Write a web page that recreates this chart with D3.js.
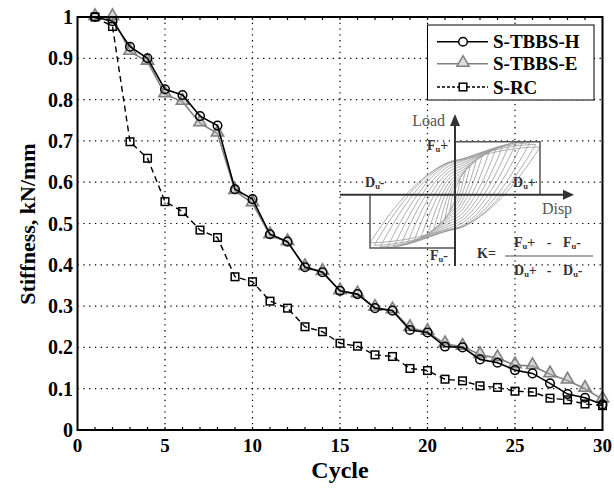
<!DOCTYPE html>
<html>
<head>
<meta charset="utf-8">
<script src="https://cdn.jsdelivr.net/npm/d3@7"></script>
<style>
  body { margin: 0; background: #fff; }
  text { font-family: "Liberation Serif", "Times New Roman", serif; }
</style>
</head>
<body>
<svg width="614" height="488"></svg>
<script>
// stiffness degradation per cycle
var cycles = d3.range(1, 31);
var tbbsH = [1.0, 0.99, 0.928, 0.900, 0.825, 0.811, 0.760, 0.737, 0.583, 0.559,
  0.474, 0.456, 0.394, 0.382, 0.337, 0.329, 0.295, 0.289, 0.242, 0.236,
  0.202, 0.200, 0.171, 0.163, 0.145, 0.137, 0.113, 0.087, 0.078, 0.062];
var tbbsE = [1.0, 1.0, 0.916, 0.892, 0.813, 0.795, 0.743, 0.718, 0.579, 0.549,
  0.472, 0.455, 0.395, 0.383, 0.336, 0.329, 0.296, 0.290, 0.247, 0.238,
  0.208, 0.202, 0.182, 0.174, 0.157, 0.155, 0.135, 0.120, 0.100, 0.074];
var rc = [1.0, 0.977, 0.698, 0.658, 0.553, 0.529, 0.484, 0.466, 0.371, 0.359,
  0.312, 0.295, 0.250, 0.238, 0.210, 0.203, 0.182, 0.178, 0.149, 0.144,
  0.123, 0.119, 0.107, 0.103, 0.094, 0.092, 0.077, 0.073, 0.063, 0.059];
var xTicks = [0, 5, 10, 15, 20, 25, 30];
var yTicks = [0, 0.1, 0.2, 0.3, 0.4, 0.5, 0.6, 0.7, 0.8, 0.9, 1];
var seriesNames = ["S-TBBS-H", "S-TBBS-E", "S-RC"];

// inset: hysteresis loops (normalised displacement / force amplitudes)
var loopDisp = [0.06, 0.12, 0.18, 0.25, 0.32, 0.4, 0.48, 0.56, 0.64, 0.72, 0.8, 0.88, 0.95, 1.0];
var loopForce = [0.3, 0.45, 0.56, 0.65, 0.73, 0.8, 0.86, 0.91, 0.95, 0.98, 1.0, 0.98, 0.95, 0.9];

function drawChart() {
  var svg = d3.select("svg");
  var mLeft = 77.5, mRight = 602.5, mTop = 17, mBottom = 430;

  var x = d3.scaleLinear().domain([0, 30]).range([mLeft, mRight]);
  var y = d3.scaleLinear().domain([0, 1]).range([mBottom, mTop]);

  // grid
  var grid = svg.append("g").attr("stroke", "#000").attr("stroke-width", 1.2)
    .attr("stroke-dasharray", "1.3,4.5");
  grid.selectAll(".gx").data(xTicks.slice(1, -1)).enter().append("line")
    .attr("x1", d => x(d)).attr("x2", d => x(d)).attr("y1", mBottom).attr("y2", mTop);
  grid.selectAll(".gy").data(yTicks.slice(1, -1)).enter().append("line")
    .attr("x1", mLeft).attr("x2", mRight).attr("y1", d => y(d)).attr("y2", d => y(d));

  // minor ticks on top and bottom
  var minor = svg.append("g").attr("stroke", "#000").attr("stroke-width", 1.2);
  minor.selectAll(".mb").data(d3.range(1, 30)).enter().append("line")
    .attr("x1", d => x(d)).attr("x2", d => x(d)).attr("y1", mBottom).attr("y2", mBottom - 3);
  minor.selectAll(".mt").data(d3.range(1, 30)).enter().append("line")
    .attr("x1", d => x(d)).attr("x2", d => x(d)).attr("y1", mTop).attr("y2", mTop + 3);

  // inset drawing
  var ix = d3.scaleLinear().domain([-1, 1]).range([370, 540]);
  var iy = d3.scaleLinear().domain([-1, 1]).range([248, 141.7]);
  var inset = svg.append("g");
  var loopLine = d3.line().x(d => ix(d[0])).y(d => iy(d[1])).curve(d3.curveBasis);
  var ts = d3.range(-1, 1.0001, 0.05);
  function pinch(t) { return Math.sign(t) * Math.pow(Math.abs(t), 1.4); }
  loopDisp.forEach(function (D, i) {
    var F = loopForce[i];
    var a = 0.35 + 0.35 * D;
    var up = ts.map(t => [D * t, F * (pinch(t) + a * (1 - t * t))]);
    var dn = ts.map(t => [D * t, F * (pinch(t) - a * (1 - t * t))]);
    inset.append("path").attr("d", loopLine(up)).attr("fill", "none")
      .attr("stroke", "#999").attr("stroke-width", 0.8);
    inset.append("path").attr("d", loopLine(dn)).attr("fill", "none")
      .attr("stroke", "#999").attr("stroke-width", 0.8);
  });
  var ox = ix(0), oy = iy(0);
  inset.append("path")
    .attr("d", "M" + ox + "," + iy(1) + "H" + ix(1) + "V" + oy)
    .attr("fill", "none").attr("stroke", "#555").attr("stroke-width", 1.5);
  inset.append("path")
    .attr("d", "M" + ox + "," + iy(-1) + "H" + ix(-1) + "V" + oy)
    .attr("fill", "none").attr("stroke", "#555").attr("stroke-width", 1.5);
  inset.append("line").attr("x1", 340).attr("x2", 566).attr("y1", oy).attr("y2", oy)
    .attr("stroke", "#333").attr("stroke-width", 2);
  inset.append("line").attr("x1", ox).attr("x2", ox).attr("y1", 266).attr("y2", 122)
    .attr("stroke", "#333").attr("stroke-width", 2);
  inset.append("path").attr("d", "M574," + oy + "L563," + (oy - 5) + "L563," + (oy + 5) + "Z").attr("fill", "#333");
  inset.append("path").attr("d", "M" + ox + ",114L" + (ox - 5) + ",126L" + (ox + 5) + ",126Z").attr("fill", "#333");

  inset.append("text").attr("x", 445).attr("y", 126).attr("text-anchor", "end")
    .attr("font-size", 16).attr("fill", "#555").text("Load");
  inset.append("text").attr("x", 557).attr("y", 214).attr("text-anchor", "middle")
    .attr("font-size", 16).attr("fill", "#555").text("Disp");

  function sub(px, py, letter, sign) {
    var t = inset.append("text").attr("x", px).attr("y", py).attr("font-size", 14)
      .attr("font-weight", "bold").attr("fill", "#333");
    t.append("tspan").text(letter);
    t.append("tspan").attr("font-size", 8.5).attr("dy", 2).text("u");
    t.append("tspan").attr("dy", -2).text(sign);
  }
  function plain(px, py, s) {
    inset.append("text").attr("x", px).attr("y", py).attr("font-size", 14)
      .attr("font-weight", "bold").attr("fill", "#333").attr("text-anchor", "middle").text(s);
  }
  sub(427, 150, "F", "+");
  sub(365, 187, "D", "-");
  sub(513, 187, "D", "+");
  sub(430, 260, "F", "-");

  inset.append("text").attr("x", 477).attr("y", 258).attr("font-size", 14)
    .attr("font-weight", "bold").attr("fill", "#333").text("K=");
  inset.append("line").attr("x1", 505).attr("x2", 593).attr("y1", 256).attr("y2", 256)
    .attr("stroke", "#555").attr("stroke-width", 1.2);
  sub(514, 247, "F", "+");
  plain(549, 247, "-");
  sub(563, 247, "F", "-");
  sub(514, 275, "D", "+");
  plain(549, 275, "-");
  sub(563, 275, "D", "-");

  // series
  function pts(vals) { return cycles.map((c, i) => [c, vals[i]]); }
  var line = d3.line().x(d => x(d[0])).y(d => y(d[1]));

  // S-TBBS-E
  svg.append("path").attr("d", line(pts(tbbsE))).attr("fill", "none")
    .attr("stroke", "#808080").attr("stroke-width", 1.6);
  var tri = d3.symbol().type(d3.symbolTriangle).size(65);
  svg.selectAll(".tri").data(pts(tbbsE)).enter().append("path")
    .attr("d", tri).attr("transform", d => "translate(" + x(d[0]) + "," + (y(d[1]) - 1) + ")")
    .attr("fill", "#b0b0b0").attr("fill-opacity", 0.5).attr("stroke", "#808080").attr("stroke-width", 1.6);

  // S-TBBS-H
  svg.append("path").attr("d", line(pts(tbbsH))).attr("fill", "none")
    .attr("stroke", "#000").attr("stroke-width", 1.6);
  svg.selectAll(".circ").data(pts(tbbsH)).enter().append("circle")
    .attr("cx", d => x(d[0])).attr("cy", d => y(d[1])).attr("r", 4.3)
    .attr("fill", "none").attr("stroke", "#000").attr("stroke-width", 1.5);

  // S-RC
  svg.append("path").attr("d", line(pts(rc))).attr("fill", "none")
    .attr("stroke", "#000").attr("stroke-width", 1.4).attr("stroke-dasharray", "6,4");
  svg.selectAll(".sq").data(pts(rc)).enter().append("rect")
    .attr("x", d => x(d[0]) - 3.8).attr("y", d => y(d[1]) - 3.8)
    .attr("width", 7.6).attr("height", 7.6)
    .attr("fill", "none").attr("stroke", "#000").attr("stroke-width", 1.5);

  // axes frame
  svg.append("rect").attr("x", mLeft).attr("y", mTop).attr("width", mRight - mLeft)
    .attr("height", mBottom - mTop).attr("fill", "none").attr("stroke", "#000").attr("stroke-width", 2);

  // tick labels
  svg.selectAll(".xt").data(xTicks).enter().append("text")
    .attr("x", d => x(d)).attr("y", 452).attr("text-anchor", "middle")
    .attr("font-size", 19).attr("font-weight", "bold").text(d => d);
  svg.selectAll(".yt").data(yTicks).enter().append("text")
    .attr("x", 73).attr("y", d => y(d) + 7).attr("text-anchor", "end")
    .attr("font-size", 20).attr("font-weight", "bold").text(d => d);

  // titles
  svg.append("text").attr("x", 340).attr("y", 478).attr("text-anchor", "middle")
    .attr("font-size", 24).attr("font-weight", "bold").text("Cycle");
  svg.append("text").attr("transform", "translate(35,224) rotate(-90)")
    .attr("text-anchor", "middle").attr("font-size", 22).attr("font-weight", "bold")
    .text("Stiffness, kN/mm");

  // legend
  var lg = svg.append("g");
  lg.append("rect").attr("x", 427.5).attr("y", 25).attr("width", 166.5).attr("height", 75)
    .attr("fill", "#fff").attr("stroke", "#000").attr("stroke-width", 1);
  var rowsY = [41.7, 63.8, 87];
  var lx1 = 437, lx2 = 488, lm = 463;
  lg.append("line").attr("x1", lx1).attr("x2", lx2).attr("y1", rowsY[0]).attr("y2", rowsY[0])
    .attr("stroke", "#000").attr("stroke-width", 1.6);
  lg.append("circle").attr("cx", lm).attr("cy", rowsY[0]).attr("r", 4.3)
    .attr("fill", "#fff").attr("stroke", "#000").attr("stroke-width", 1.5);
  lg.append("line").attr("x1", lx1).attr("x2", lx2).attr("y1", rowsY[1]).attr("y2", rowsY[1])
    .attr("stroke", "#808080").attr("stroke-width", 1.6);
  lg.append("path").attr("d", tri).attr("transform", "translate(" + lm + "," + (rowsY[1] - 1) + ")")
    .attr("fill", "#ddd").attr("stroke", "#808080").attr("stroke-width", 1.5);
  lg.append("line").attr("x1", lx1).attr("x2", lx2).attr("y1", rowsY[2]).attr("y2", rowsY[2])
    .attr("stroke", "#000").attr("stroke-width", 1.4).attr("stroke-dasharray", "3,2");
  lg.append("rect").attr("x", lm - 3.8).attr("y", rowsY[2] - 3.8).attr("width", 7.6).attr("height", 7.6)
    .attr("fill", "#fff").attr("stroke", "#000").attr("stroke-width", 1.5);
  lg.selectAll(".lt").data(seriesNames).enter().append("text")
    .attr("x", 493).attr("y", (d, i) => rowsY[i] + 6.5)
    .attr("font-size", 19).attr("font-weight", "bold").text(d => d);
}
drawChart();
</script>
</body>
</html>
